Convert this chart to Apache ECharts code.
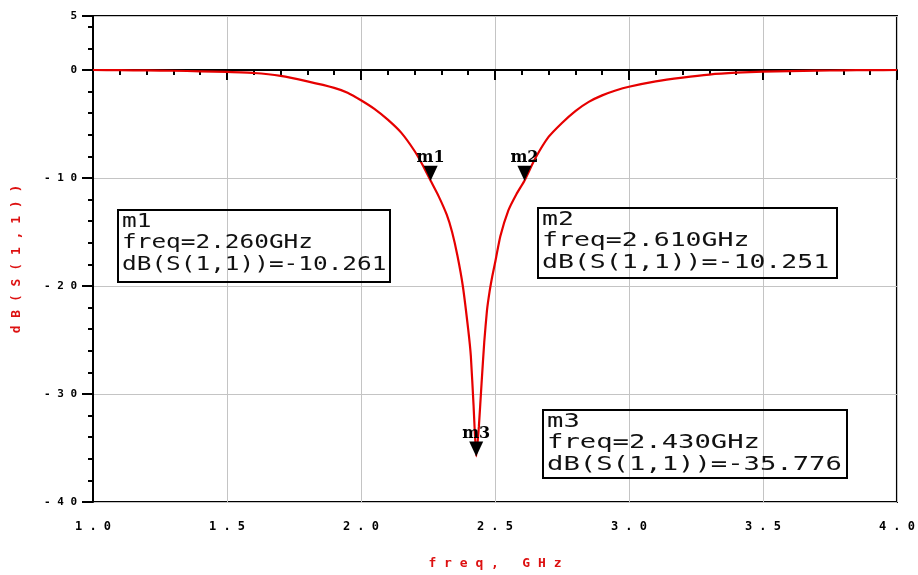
<!DOCTYPE html>
<html><head><meta charset="utf-8">
<script src="https://cdn.jsdelivr.net/npm/echarts@6/dist/echarts.min.js"></script>
<style>html,body{margin:0;padding:0;background:#fff}#c{width:918px;height:575px}</style>
</head><body><div id="c"></div>
<script>
// ---- data ----
const freqGHz = [1.0,1.1,1.2,1.3,1.4,1.5,1.6,1.7,1.8,1.9,1.95,2.0,2.05,2.1,2.15,2.2,2.23,2.26,2.29,2.32,2.34,2.36,2.38,2.40,2.41,2.42,2.43,2.44,2.45,2.46,2.47,2.48,2.49,2.50,2.52,2.55,2.58,2.61,2.65,2.70,2.75,2.80,2.85,2.90,2.95,3.0,3.1,3.2,3.3,3.4,3.5,3.6,3.7,3.8,3.9,4.0];
const s11dB   = [0,-0.02,-0.04,-0.07,-0.12,-0.18,-0.28,-0.55,-1.05,-1.65,-2.1,-2.8,-3.6,-4.6,-5.8,-7.5,-8.8,-10.261,-11.7,-13.4,-15.0,-17.2,-20.0,-24.0,-26.5,-31.0,-35.776,-33.0,-29.0,-25.2,-22.3,-20.5,-19.1,-17.9,-15.4,-13.0,-11.5,-10.251,-8.2,-6.2,-4.9,-3.8,-2.95,-2.35,-1.9,-1.55,-1.05,-0.7,-0.42,-0.25,-0.15,-0.1,-0.06,-0.03,-0.01,0];
const markerNames = ['m1','m2','m3'];
const markerFreq  = [2.26, 2.61, 2.43];
const markerDB    = [-10.261, -10.251, -35.776];
const xAxisName = 'freq, GHz';
const yAxisName = 'dB(S(1,1))';

// ---- layout / style ----
const spaced = s => String(s).split('').join(' ');
const boxLayout = [
  {x:118, y:210, w:272, h:72, sx:1.22},
  {x:538, y:208, w:299, h:70, sx:1.325},
  {x:543, y:410, w:304, h:68, sx:1.36}
];
const graphics = [];
markerNames.forEach((n, i) => {
  const b = boxLayout[i];
  graphics.push({type:'rect', shape:{x:b.x, y:b.y, width:b.w, height:b.h},
    style:{fill:'transparent', stroke:'#000', lineWidth:2}, z:100});
  graphics.push({type:'text', x:b.x+4, y:b.y+1, scaleX:b.sx,
    style:{text:[n, 'freq=' + markerFreq[i].toFixed(3) + 'GHz', 'dB(S(1,1))=' + markerDB[i].toFixed(3)].join('\n'),
      font:'20px "DejaVu Sans Mono"', fill:'#111', lineHeight:21.5, textAlign:'left', textVerticalAlign:'top'}, z:100});
});

const tickFont = {color:'#000', fontFamily:'DejaVu Sans Mono', fontWeight:'bold', fontSize:11};
const chart = echarts.init(document.getElementById('c'));
chart.setOption({
  animation:false,
  backgroundColor:'#fff',
  grid:{left:93, right:21, top:16, bottom:67, show:true, borderColor:'#000', borderWidth:2, backgroundColor:'transparent'},
  xAxis:[{
    type:'value', min:1, max:4, interval:0.5,
    name:spaced(xAxisName), nameLocation:'middle', nameGap:55,
    nameTextStyle:{color:'#dd1111', fontFamily:'DejaVu Sans Mono', fontWeight:'bold', fontSize:13},
    axisLine:{show:true, lineStyle:{color:'#000', width:2}},
    axisTick:{show:true, length:10, lineStyle:{color:'#000', width:2}},
    minorTick:{show:true, splitNumber:5, length:5, lineStyle:{color:'#000', width:2}},
    splitLine:{show:true, lineStyle:{color:'#c4c4c4', width:1}},
    axisLabel:Object.assign({margin:19, formatter:v => spaced(v.toFixed(1))}, tickFont, {fontSize:12})
  }],
  yAxis:[{
    type:'value', min:-40, max:5, interval:10,
    name:spaced(yAxisName), nameLocation:'middle', nameGap:70,
    nameTextStyle:{color:'#dd1111', fontFamily:'DejaVu Sans Mono', fontWeight:'bold', fontSize:13},
    axisLine:{show:true, lineStyle:{color:'#000', width:2}},
    axisTick:{show:true, length:11, lineStyle:{color:'#000', width:2}},
    splitLine:{show:true, lineStyle:{color:'#c4c4c4', width:1}},
    axisLabel:Object.assign({margin:16, formatter:v => spaced(Math.round(v))}, tickFont)
  },{
    type:'value', min:-40, max:5, interval:2, position:'left',
    axisLine:{show:false}, axisLabel:{show:false}, splitLine:{show:false},
    axisTick:{show:true, length:5, lineStyle:{color:'#000', width:2}}
  }],
  graphic:graphics,
  series:[{
    type:'line', xAxisIndex:0, yAxisIndex:0,
    data:freqGHz.map((f, i) => [f, s11dB[i]]),
    showSymbol:false, smooth:0.15,
    lineStyle:{color:'#e60000', width:2.2}, z:3
  },{
    type:'scatter', xAxisIndex:0, yAxisIndex:0,
    data:markerNames.map((n, i) => ({name:n, value:[markerFreq[i], markerDB[i]]})),
    symbol:'path://M0,0L10,0L5,10Z', symbolSize:[14,15], symbolOffset:[0,'-50%'],
    itemStyle:{color:'#000', opacity:1},
    label:{show:true, position:'top', distance:0, formatter:'{b}', color:'#000',
      fontFamily:'DejaVu Serif', fontWeight:'bold', fontSize:16},
    z:5
  }]
});
</script></body></html>
